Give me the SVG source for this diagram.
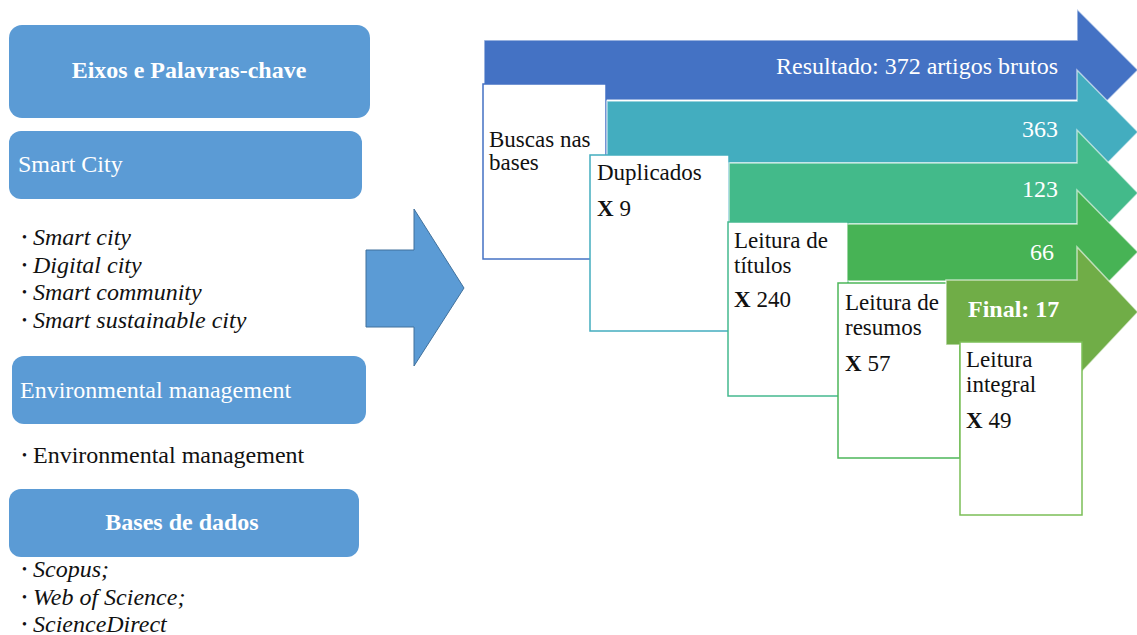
<svg xmlns="http://www.w3.org/2000/svg" width="1137" height="635" viewBox="0 0 1137 635" font-family="'Liberation Serif', 'DejaVu Serif', serif">
  <style>
    text { font-family: 'Liberation Serif', 'DejaVu Serif', serif; font-size: 24px; }
    .box-text { font-size: 23px; }
    .lbl { fill: #5B9BD5; }
    .w { fill: #ffffff; }
    .k { fill: #111111; }
    .b { font-weight: bold; }
    .i { font-style: italic; }
    .dot { font-size: 14px; }
    .step { fill: #ffffff; stroke-width: 1.5; }
    .band { stroke: #ffffff; stroke-opacity: 0.6; stroke-width: 1.5; }
  </style>

  <rect width="1137" height="635" fill="#ffffff"/>

  <!-- Left column: search axes and keywords -->
  <g id="axes-header">
    <rect class="lbl" x="9" y="25" width="361" height="93" rx="13"/>
    <text class="w b" x="189" y="78" text-anchor="middle">Eixos e Palavras-chave</text>
  </g>
  <g id="smart-city">
    <rect class="lbl" x="9" y="131" width="353" height="68" rx="12"/>
    <text class="w" x="18" y="172">Smart City</text>
  </g>
  <g id="smart-city-terms">
    <text class="k dot" x="22" y="242">•</text><text class="k i" x="33" y="245">Smart city</text>
    <text class="k dot" x="22" y="270">•</text><text class="k i" x="33" y="273">Digital city</text>
    <text class="k dot" x="22" y="297">•</text><text class="k i" x="33" y="300">Smart community</text>
    <text class="k dot" x="22" y="325">•</text><text class="k i" x="33" y="328">Smart sustainable city</text>
  </g>
  <g id="environmental">
    <rect class="lbl" x="12" y="356" width="354" height="68" rx="12"/>
    <text class="w" x="20" y="398">Environmental management</text>
  </g>
  <g id="environmental-terms">
    <text class="k dot" x="22" y="460">•</text><text class="k" x="33" y="463">Environmental management</text>
  </g>
  <g id="databases">
    <rect class="lbl" x="9" y="489" width="350" height="68" rx="12"/>
    <text class="w b" x="182" y="530" text-anchor="middle">Bases de dados</text>
  </g>
  <g id="database-list">
    <text class="k dot" x="22" y="574">•</text><text class="k i" x="33" y="577">Scopus;</text>
    <text class="k dot" x="22" y="602">•</text><text class="k i" x="33" y="605">Web of Science;</text>
    <text class="k dot" x="22" y="629">•</text><text class="k i" x="33" y="632">ScienceDirect</text>
  </g>

  <!-- Connector between the two halves -->
  <g id="connectors">
    <polygon points="366,250 414,250 414,209 464,288 414,366 414,327 366,327" fill="#5B9BD5" stroke="#41719C" stroke-width="1"/>
  </g>

  <!-- Right: screening funnel, each band with its step card -->
  <g id="stage-raw">
    <polygon class="band" points="484,40 1077,40 1077,9 1138,70 1077,131 1077,100 484,100" fill="#4472C4"/>
    <text class="w" x="1058" y="74" text-anchor="end">Resultado: 372 artigos brutos</text>
  </g>
  <g id="step-search">
    <rect class="step" x="483" y="84" width="123" height="175" stroke="#4472C4"/>
    <text class="k box-text" x="489" y="147">Buscas nas</text>
    <text class="k box-text" x="489" y="170">bases</text>
  </g>

  <g id="stage-363">
    <polygon class="band" points="607,101 1077,101 1077,70 1138,132 1077,194 1077,163 607,163" fill="#43ADBF"/>
    <text class="w" x="1058" y="137" text-anchor="end">363</text>
  </g>
  <g id="step-duplicates">
    <rect class="step" x="590" y="155" width="139" height="176" stroke="#43ADBF"/>
    <text class="k box-text" x="597" y="180">Duplicados</text>
    <text class="k box-text" x="597" y="216"><tspan class="b">X</tspan> 9</text>
  </g>

  <g id="stage-123">
    <polygon class="band" points="729,163 1077,163 1077,130 1138,193 1077,256 1077,224 729,224" fill="#43BA8A"/>
    <text class="w" x="1058" y="197" text-anchor="end">123</text>
  </g>
  <g id="step-titles">
    <rect class="step" x="728" y="222" width="120" height="174" stroke="#44B98F"/>
    <text class="k box-text" x="734" y="248">Leitura de</text>
    <text class="k box-text" x="734" y="273">títulos</text>
    <text class="k box-text" x="734" y="307"><tspan class="b">X</tspan> 240</text>
  </g>

  <g id="stage-66">
    <polygon class="band" points="847,224 1077,224 1077,190 1138,252 1077,314 1077,281 847,281" fill="#47B355"/>
    <text class="w" x="1054" y="260" text-anchor="end">66</text>
  </g>
  <g id="step-abstracts">
    <rect class="step" x="838" y="283" width="122" height="175" stroke="#4DB65A"/>
    <text class="k box-text" x="845" y="310">Leitura de</text>
    <text class="k box-text" x="845" y="335">resumos</text>
    <text class="k box-text" x="845" y="371"><tspan class="b">X</tspan> 57</text>
  </g>

  <g id="stage-final">
    <polygon class="band" points="946,280 1077,280 1077,247 1138,312 1077,377 1077,345 946,345" fill="#70AD47"/>
    <text class="w b" x="968" y="317">Final: 17</text>
  </g>
  <g id="step-fulltext">
    <rect class="step" x="960" y="342" width="122" height="173" stroke="#7BBE57"/>
    <text class="k box-text" x="966" y="367">Leitura</text>
    <text class="k box-text" x="966" y="392">integral</text>
    <text class="k box-text" x="966" y="428"><tspan class="b">X</tspan> 49</text>
  </g>
</svg>
